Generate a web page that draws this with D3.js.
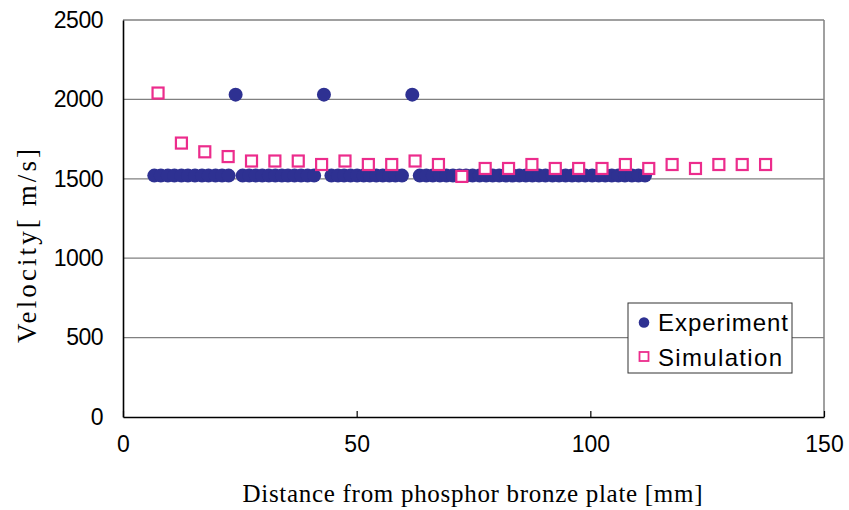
<!DOCTYPE html>
<html>
<head>
<meta charset="utf-8">
<script src="https://cdn.jsdelivr.net/npm/d3@7"></script>
<style>
  html, body { margin: 0; padding: 0; background: #fff; }
  svg { display: block; }
</style>
</head>
<body>
<div id="chart"></div>
<script>
// ---- data ----
const expDistance = [
  6.7, 8.1, 9.6, 11.0, 12.5, 13.9, 15.4, 16.9, 18.3, 19.8, 21.2, 22.6,
  24.1,
  25.6, 27.0, 28.4, 29.8, 31.2, 32.6, 34.0, 35.3, 36.7, 38.1, 39.5, 40.9,
  43.0,
  44.6, 46.0, 47.3, 48.7, 50.1, 51.5, 52.8, 54.2, 55.6, 57.0, 58.3, 59.7,
  61.9,
  63.5, 64.9, 66.3, 67.8, 69.2, 70.6, 72.0, 73.4, 74.8, 76.3, 77.7, 79.1,
  80.5, 81.9, 83.4, 84.8, 86.2, 87.6, 89.0, 90.4, 91.9, 93.3, 94.7, 96.1,
  97.5, 98.9, 100.4, 101.8, 103.2, 104.6, 106.0, 107.4, 108.9, 110.3, 111.7
];
const expVelocity = [
  1520, 1520, 1520, 1520, 1520, 1520, 1520, 1520, 1520, 1520, 1520, 1520,
  2030,
  1520, 1520, 1520, 1520, 1520, 1520, 1520, 1520, 1520, 1520, 1520, 1520,
  2030,
  1520, 1520, 1520, 1520, 1520, 1520, 1520, 1520, 1520, 1520, 1520, 1520,
  2030,
  1520, 1520, 1520, 1520, 1520, 1520, 1520, 1520, 1520, 1520, 1520, 1520,
  1520, 1520, 1520, 1520, 1520, 1520, 1520, 1520, 1520, 1520, 1520, 1520,
  1520, 1520, 1520, 1520, 1520, 1520, 1520, 1520, 1520, 1520, 1520, 1520
];
const simDistance = [
  7.5, 12.5, 17.5, 22.5, 27.5, 32.5, 37.5, 42.5, 47.5, 52.5, 57.5, 62.5, 67.5, 72.5,
  77.5, 82.5, 87.5, 92.5, 97.5, 102.5, 107.5, 112.5, 117.5, 122.5, 127.5, 132.5, 137.5
];
const simVelocity = [
  2040, 1725, 1670, 1640, 1612, 1612, 1612, 1590, 1612, 1590, 1590, 1612, 1590, 1515,
  1565, 1565, 1590, 1565, 1565, 1565, 1590, 1565, 1590, 1565, 1590, 1590, 1590
];
const xTicks = [0, 50, 100, 150];
const yTicks = [0, 500, 1000, 1500, 2000, 2500];
const seriesNames = ["Experiment", "Simulation"];
const xTitle = "Distance from phosphor bronze plate [mm]";
const yTitle = "Velocity[ m/s]";

// ---- layout ----
const W = 849, H = 510;
const pLeft = 123, pRight = 824, pTop = 20, pBottom = 417;
const navy = "#2E3192", pink = "#EC2C8C", gridCol = "#808080";

const svg = d3.select("#chart").append("svg").attr("width", W).attr("height", H);

const x = d3.scaleLinear().domain([0, 150]).range([pLeft, pRight]);
const y = d3.scaleLinear().domain([0, 2500]).range([pBottom, pTop]);

// gridlines
svg.append("g").selectAll("line").data(yTicks.filter(d => d > 0)).join("line")
  .attr("x1", pLeft).attr("x2", pRight)
  .attr("y1", d => y(d)).attr("y2", d => y(d))
  .attr("stroke", gridCol).attr("stroke-width", 1.3);

// right border
svg.append("line").attr("x1", pRight).attr("x2", pRight).attr("y1", pTop).attr("y2", pBottom)
  .attr("stroke", gridCol).attr("stroke-width", 1.5);

// axes
const xAxis = d3.axisBottom(x).tickValues(xTicks).tickSizeInner(-6).tickSizeOuter(0).tickFormat(d3.format("d"));
const gx = svg.append("g").attr("transform", `translate(0,${pBottom})`).call(xAxis);
gx.select(".domain").attr("stroke", "#000").attr("stroke-width", 1.6);
gx.selectAll(".tick line").attr("stroke", "#000").attr("stroke-width", 1.2);
gx.selectAll(".tick text").attr("font-family", "Liberation Sans, Arial, sans-serif")
  .attr("font-size", 23).attr("fill", "#000").attr("y", 0).attr("dy", "1.52em");

const yAxis = d3.axisLeft(y).tickValues(yTicks).tickSizeInner(0).tickSizeOuter(0).tickPadding(20).tickFormat(d3.format("d"));
const gy = svg.append("g").attr("transform", `translate(${pLeft},0)`).call(yAxis);
gy.select(".domain").attr("stroke", "#000").attr("stroke-width", 1.6);
gy.selectAll(".tick text").attr("font-family", "Liberation Sans, Arial, sans-serif")
  .attr("font-size", 23).attr("fill", "#000").attr("letter-spacing", -0.5);

// experiment dots
const expData = expDistance.map((d, i) => ({ d, v: expVelocity[i] }));
svg.append("g").selectAll("circle").data(expData).join("circle")
  .attr("cx", p => x(p.d)).attr("cy", p => y(p.v)).attr("r", 7)
  .attr("fill", navy);

// simulation squares
const simData = simDistance.map((d, i) => ({ d, v: simVelocity[i] }));
const sq = 11;
svg.append("g").selectAll("rect").data(simData).join("rect")
  .attr("x", p => x(p.d) - sq / 2).attr("y", p => y(p.v) - sq / 2)
  .attr("width", sq).attr("height", sq)
  .attr("fill", "#fff").attr("stroke", pink).attr("stroke-width", 2.2);

// titles
svg.append("text").attr("x", (pLeft + pRight) / 2 - 1).attr("y", 502)
  .attr("text-anchor", "middle").attr("font-family", "Liberation Serif, Times New Roman, serif")
  .attr("font-size", 25).attr("fill", "#000")
  .attr("textLength", 460).attr("lengthAdjust", "spacing")
  .text(xTitle);

svg.append("text").attr("transform", "translate(36,246) rotate(-90)")
  .attr("text-anchor", "middle").attr("font-family", "Liberation Serif, Times New Roman, serif")
  .attr("font-size", 27).attr("fill", "#000")
  .attr("textLength", 194).attr("lengthAdjust", "spacing")
  .text(yTitle);

// legend
const lg = svg.append("g");
lg.append("rect").attr("x", 628).attr("y", 303).attr("width", 164).attr("height", 70)
  .attr("fill", "#fff").attr("stroke", "#333").attr("stroke-width", 1);
lg.append("circle").attr("cx", 644).attr("cy", 322.5).attr("r", 5.3).attr("fill", navy);
lg.append("rect").attr("x", 639.5).attr("y", 352).attr("width", 9).attr("height", 9)
  .attr("fill", "#fff").attr("stroke", pink).attr("stroke-width", 1.8);
lg.append("text").attr("x", 658).attr("y", 331)
  .attr("font-family", "Liberation Sans, Arial, sans-serif").attr("font-size", 24).attr("fill", "#000")
  .attr("textLength", 130).attr("lengthAdjust", "spacing")
  .text(seriesNames[0]);
lg.append("text").attr("x", 658).attr("y", 365.5)
  .attr("font-family", "Liberation Sans, Arial, sans-serif").attr("font-size", 24).attr("fill", "#000")
  .attr("textLength", 124).attr("lengthAdjust", "spacing")
  .text(seriesNames[1]);
</script>
</body>
</html>
